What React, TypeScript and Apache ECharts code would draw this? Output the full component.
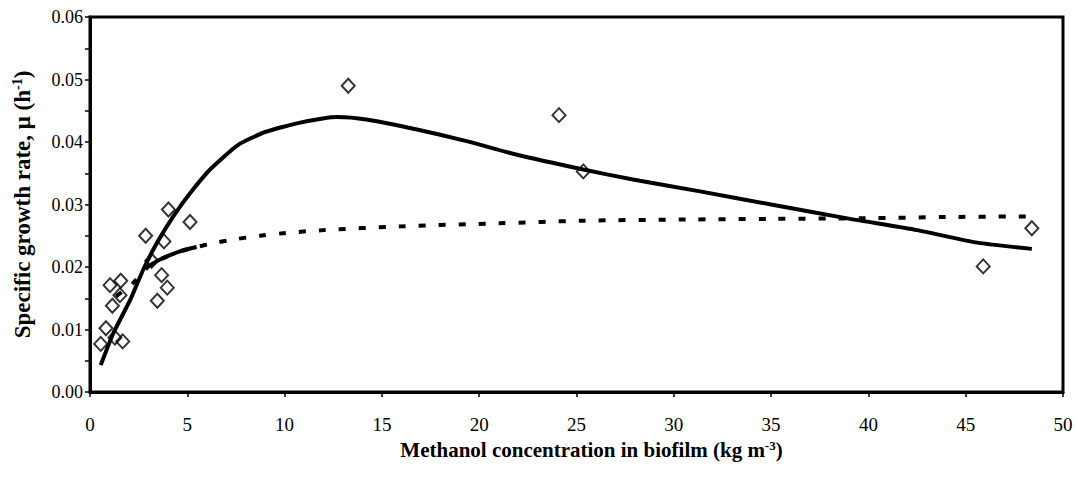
import React, { useEffect, useRef } from "react";
import * as echarts from "echarts";

// Measured specific growth rates (methanol concentration kg/m3, growth rate 1/h)
const obsX = [0.55, 0.82, 1.03, 1.15, 1.58, 1.54, 1.28, 1.68, 2.86, 3.17, 4.03, 3.8, 5.14, 3.68, 3.97, 3.46, 13.27, 24.1, 25.35, 45.9, 48.4];
const obsY = [0.0077, 0.0102, 0.0171, 0.0138, 0.0178, 0.0155, 0.0087, 0.0081, 0.025, 0.021, 0.0292, 0.0241, 0.0272, 0.0187, 0.0167, 0.0146, 0.049, 0.0443, 0.0353, 0.0201, 0.0262];

// Substrate-inhibition model curve (solid)
const inhibX = [0.55, 1.2, 2.06, 2.74, 3.43, 4.28, 5.14, 6.17, 7.6, 9.0, 10.8, 12.7, 14.2, 16.8, 19.4, 21.9, 25.35, 27.9, 31.35, 35.0, 39.06, 42.5, 45.6, 48.4];
const inhibY = [0.0043, 0.0094, 0.0147, 0.0196, 0.0238, 0.0281, 0.0318, 0.0356, 0.0395, 0.0416, 0.0431, 0.044, 0.0436, 0.042, 0.0401, 0.038, 0.0356, 0.034, 0.0321, 0.03, 0.0277, 0.0259, 0.0239, 0.0229];

// Monod model curve (dashed)
const monodX = [1.34, 2.23, 3.0, 3.6, 4.62, 5.48, 6.34, 7.37, 8.74, 9.93, 12, 15.93, 21.07, 25.3, 30.66, 35, 39.8, 44, 48.3];
const monodY = [0.0153, 0.0175, 0.0201, 0.0212, 0.0225, 0.0232, 0.0238, 0.0244, 0.025, 0.0254, 0.0259, 0.0265, 0.027, 0.0274, 0.0276, 0.0277, 0.0278, 0.028, 0.0281];

const xTicks = [0, 5, 10, 15, 20, 25, 30, 35, 40, 45, 50];
const yTicks = [0, 0.01, 0.02, 0.03, 0.04, 0.05, 0.06];

const FONT = "'Liberation Serif', 'Times New Roman', serif";

const pairs = (xs: number[], ys: number[]) => xs.map((x, i) => [x, ys[i]]);

export default function App() {
  const ref = useRef<HTMLDivElement>(null);

  useEffect(() => {
    if (!ref.current) return;
    const chart = echarts.init(ref.current, null, { renderer: "svg" });
    const monod = pairs(monodX, monodY);
    chart.setOption({
      animation: false,
      backgroundColor: "#fff",
      grid: {
        left: 90,
        right: 13,
        top: 17,
        bottom: 85,
        show: true,
        borderColor: "#000",
        borderWidth: 3,
        backgroundColor: "transparent",
      },
      xAxis: {
        type: "value",
        min: xTicks[0],
        max: xTicks[xTicks.length - 1],
        interval: 5,
        name: "Methanol concentration in biofilm (kg m{sup|-3})",
        nameLocation: "middle",
        nameGap: 45,
        nameTextStyle: {
          fontFamily: FONT,
          fontSize: 21,
          fontWeight: "bold",
          color: "#000",
          padding: [0, 0, 0, 30],
          rich: {
            sup: { fontFamily: FONT, fontSize: 13, fontWeight: "bold", verticalAlign: "top", padding: [0, 0, 9, 0], color: "#000" },
          },
        },
        axisLine: { lineStyle: { color: "#000", width: 3 } },
        axisTick: { show: true, length: 5, lineStyle: { color: "#000", width: 1.5 } },
        splitLine: { show: false },
        axisLabel: { fontFamily: FONT, fontSize: 19, color: "#000", margin: 23 },
      },
      yAxis: {
        type: "value",
        min: yTicks[0],
        max: yTicks[yTicks.length - 1],
        interval: 0.01,
        name: "Specific growth rate, \u03bc (h{sup|-1})",
        nameLocation: "middle",
        nameGap: 56,
        nameTextStyle: {
          fontFamily: FONT,
          fontSize: 23,
          fontWeight: "bold",
          color: "#000",
          rich: {
            sup: { fontFamily: FONT, fontSize: 14, fontWeight: "bold", verticalAlign: "top", padding: [0, 0, 10, 0], color: "#000" },
          },
        },
        axisLine: { lineStyle: { color: "#000", width: 3 } },
        axisTick: { show: true, length: 5, lineStyle: { color: "#000", width: 1.5 } },
        minorTick: { show: true, splitNumber: 2, length: 5, lineStyle: { color: "#000", width: 1.5 } },
        splitLine: { show: false },
        axisLabel: {
          fontFamily: FONT,
          fontSize: 18,
          color: "#000",
          margin: 7,
          formatter: (v: number) => v.toFixed(2),
        },
      },
      series: [
        {
          name: "Monod",
          type: "line",
          data: monod,
          smooth: 0.3,
          showSymbol: false,
          lineStyle: { color: "#000", width: 4, type: [7, 13], cap: "butt" },
          z: 2,
        },
        {
          name: "Monod (dense segment)",
          type: "line",
          data: monod.filter((p) => p[0] >= 3.0 && p[0] <= 5.5),
          smooth: 0.3,
          showSymbol: false,
          lineStyle: { color: "#000", width: 4 },
          z: 2,
        },
        {
          name: "Inhibition",
          type: "line",
          data: pairs(inhibX, inhibY),
          smooth: 0.2,
          showSymbol: false,
          lineStyle: { color: "#000", width: 4 },
          z: 3,
        },
        {
          name: "Observed",
          type: "scatter",
          data: pairs(obsX, obsY),
          symbol: "diamond",
          symbolSize: [13, 14],
          itemStyle: { color: "rgba(255,255,255,0)", borderColor: "#000", borderWidth: 2 },
          z: 4,
        },
      ],
    });
    return () => chart.dispose();
  }, []);

  return (
    <div
      ref={ref}
      style={{ position: "fixed", left: 0, top: 0, width: 1076, height: 477, background: "#fff" }}
    />
  );
}
